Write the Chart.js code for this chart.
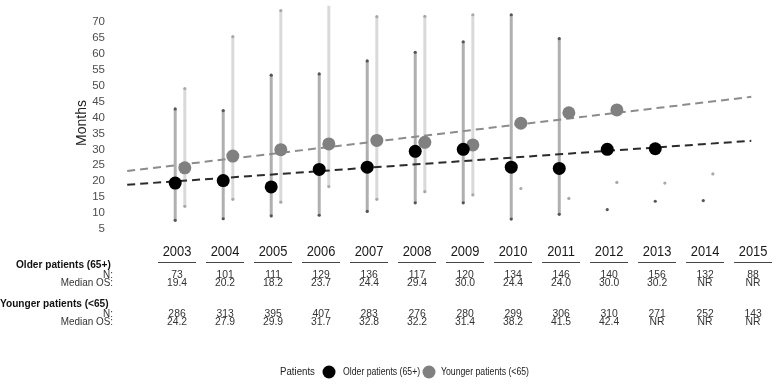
<!DOCTYPE html>
<html>
<head>
<meta charset="utf-8">
<script src="https://cdn.jsdelivr.net/npm/chart.js@4/dist/chart.umd.min.js"></script>
<style>
  html, body { margin: 0; padding: 0; background: #fff; }
  #wrap { width: 778px; height: 385px; }
</style>
</head>
<body>
<div id="wrap"><canvas id="survivalChart"></canvas></div>
<script>
// Diagnosis years
const years = [2003, 2004, 2005, 2006, 2007, 2008, 2009, 2010, 2011, 2012, 2013, 2014, 2015];

// Older patients (65+)
const olderN = [73, 101, 111, 129, 136, 117, 120, 134, 146, 140, 156, 132, 88];
const olderMedian = [19.4, 20.2, 18.2, 23.7, 24.4, 29.4, 30.0, 24.4, 24.0, 30.0, 30.2, null, null];
const olderLow = [7.7, 8.2, 9.1, 9.3, 10.5, 13.2, 13.2, 8.1, 9.6, 11.1, 13.7, 13.9, null];
const olderHigh = [42.7, 42.2, 53.3, 53.7, 57.8, 60.5, 63.8, 72.3, 64.8, null, null, null, null];

// Younger patients (<65)
const youngerN = [286, 313, 395, 407, 283, 276, 280, 299, 306, 310, 271, 252, 143];
const youngerMedian = [24.2, 27.9, 29.9, 31.7, 32.8, 32.2, 31.4, 38.2, 41.5, 42.4, null, null, null];
const youngerLow = [12.1, 14.3, 13.4, 18.3, 14.3, 16.7, 15.7, 17.7, 14.6, 19.6, 19.4, 22.3, null];
const youngerHigh = [49.1, 65.4, 73.6, 75.1, 71.7, 71.8, 72.3, null, null, null, null, null, null];

// trend lines (end points)
const trendYears = [2001.9, 2014.9];
const olderTrend = [18.9, 32.7];
const youngerTrend = [23.2, 46.5];

const yTicks = [5, 10, 15, 20, 25, 30, 35, 40, 45, 50, 55, 60, 65, 70];

const FONT = "'Liberation Sans', Arial, sans-serif";
Chart.defaults.font.family = FONT;

function medianPoints(offset, medians) {
    return years.map((yr, i) => ({ x: yr + offset, y: medians[i] }));
}

// low/high pairs separated by gaps so each year gets its own segment
function rangePoints(offset, lows, highs) {
    const pts = [];
    years.forEach((yr, i) => {
        if (lows[i] != null) pts.push({ x: yr + offset, y: lows[i] });
        if (highs[i] != null) pts.push({ x: yr + offset, y: highs[i] });
        pts.push({ x: yr + offset, y: null });
    });
    return pts;
}

function trendPoints(values) {
    return trendYears.map((yr, i) => ({ x: yr, y: values[i] }));
}

// the table text in the original is a bit narrow, so squeeze it horizontally
function squeezedText(ctx, text, x, y, sx) {
    ctx.save();
    ctx.translate(x, y);
    ctx.scale(sx, 1);
    ctx.fillText(text, 0, 0);
    ctx.restore();
}

const tablePlugin = {
    id: 'countTable',
    afterDraw(chart) {
        const ctx = chart.ctx;
        const xs = chart.scales.x;
        ctx.save();
        ctx.textBaseline = 'middle';

        // row labels
        ctx.fillStyle = '#111';
        ctx.textAlign = 'left';
        ctx.font = 'bold 11.5px ' + FONT;
        squeezedText(ctx, 'Older patients (65+)', 16, 265, 0.88);
        squeezedText(ctx, 'Younger patients (<65)', 0, 304, 0.88);
        ctx.textAlign = 'right';
        ctx.font = '11.5px ' + FONT;
        ctx.fillStyle = '#333';
        squeezedText(ctx, 'N:', 113, 275, 0.86);
        squeezedText(ctx, 'Median OS:', 113, 283, 0.86);
        squeezedText(ctx, 'N:', 113, 313.5, 0.86);
        squeezedText(ctx, 'Median OS:', 113, 321.5, 0.86);

        const fmt = v => v == null ? 'NR' : v.toFixed(1);
        years.forEach((yr, i) => {
            const cx = xs.getPixelForValue(yr) - 3;
            ctx.textAlign = 'center';
            ctx.fillStyle = '#1a1a1a';
            ctx.font = '15px ' + FONT;
            squeezedText(ctx, String(yr), cx, 252, 0.86);
            ctx.strokeStyle = '#444';
            ctx.lineWidth = 1;
            ctx.beginPath();
            ctx.moveTo(cx - 19, 262.5);
            ctx.lineTo(cx + 19, 262.5);
            ctx.stroke();

            ctx.font = '11.5px ' + FONT;
            ctx.fillStyle = '#333';
            squeezedText(ctx, String(olderN[i]), cx, 275, 0.9);
            squeezedText(ctx, fmt(olderMedian[i]), cx, 283, 0.9);
            squeezedText(ctx, String(youngerN[i]), cx, 313.5, 0.9);
            squeezedText(ctx, fmt(youngerMedian[i]), cx, 321.5, 0.9);
        });

        // legend
        ctx.textAlign = 'left';
        ctx.fillStyle = '#222';
        ctx.font = '11.5px ' + FONT;
        squeezedText(ctx, 'Patients', 280, 372, 0.84);
        ctx.fillStyle = '#000';
        ctx.beginPath();
        ctx.arc(329, 372, 6.5, 0, Math.PI * 2);
        ctx.fill();
        ctx.fillStyle = '#222';
        ctx.font = '10px ' + FONT;
        squeezedText(ctx, 'Older patients (65+)', 343, 372, 0.87);
        ctx.fillStyle = '#808080';
        ctx.beginPath();
        ctx.arc(429, 372, 6.5, 0, Math.PI * 2);
        ctx.fill();
        ctx.fillStyle = '#222';
        squeezedText(ctx, 'Younger patients (<65)', 441, 372, 0.87);
        ctx.restore();
    }
};

const ctx = document.getElementById('survivalChart').getContext('2d');
new Chart(ctx, {
    type: 'scatter',
    data: {
        datasets: [
            {
                label: 'Older patients (65+)',
                data: medianPoints(-0.1, olderMedian),
                backgroundColor: '#000',
                borderWidth: 0,
                pointRadius: 6.5,
                order: 0
            },
            {
                label: 'Younger patients (<65)',
                data: medianPoints(0.1, youngerMedian),
                backgroundColor: '#808080',
                borderWidth: 0,
                pointRadius: 6.5,
                order: 0
            },
            {
                label: 'Older trend',
                data: trendPoints(olderTrend),
                showLine: true,
                borderColor: '#2b2b2b',
                borderWidth: 2,
                borderDash: [8, 5],
                pointRadius: 0,
                order: 1
            },
            {
                label: 'Younger trend',
                data: trendPoints(youngerTrend),
                showLine: true,
                borderColor: '#8c8c8c',
                borderWidth: 2,
                borderDash: [8, 5],
                pointRadius: 0,
                order: 1
            },
            {
                label: 'Older range',
                data: rangePoints(-0.1, olderLow, olderHigh),
                showLine: true,
                spanGaps: false,
                borderColor: '#b0b0b0',
                borderWidth: 3,
                pointRadius: 1.6,
                pointBackgroundColor: '#555',
                pointBorderWidth: 0,
                clip: false,
                order: 2
            },
            {
                label: 'Younger range',
                data: rangePoints(0.1, youngerLow, youngerHigh),
                showLine: true,
                spanGaps: false,
                borderColor: '#d9d9d9',
                borderWidth: 3,
                pointRadius: 1.6,
                pointBackgroundColor: '#a8a8a8',
                pointBorderWidth: 0,
                clip: false,
                order: 2
            }
        ]
    },
    options: {
        responsive: true,
        maintainAspectRatio: false,
        animation: false,
        events: [],
        layout: {
            padding: { top: 10, bottom: 153, left: 0, right: 8 }
        },
        scales: {
            x: {
                type: 'linear',
                min: 2001.75,
                max: 2015.29,
                display: false
            },
            y: {
                min: 4.04,
                max: 72.56,
                afterBuildTicks: s => { s.ticks = yTicks.map(v => ({ value: v })); },
                afterFit: s => { s.width = 120; },
                grid: { display: false },
                border: { display: false },
                ticks: {
                    font: { size: 11.5 },
                    color: '#4d4d4d',
                    padding: 7
                },
                title: {
                    display: true,
                    text: 'Months',
                    font: { size: 14 },
                    color: '#222',
                    padding: { top: 74, bottom: 0 }
                }
            }
        },
        plugins: {
            legend: { display: false },
            tooltip: { enabled: false }
        }
    },
    plugins: [tablePlugin]
});
</script>
</body>
</html>
